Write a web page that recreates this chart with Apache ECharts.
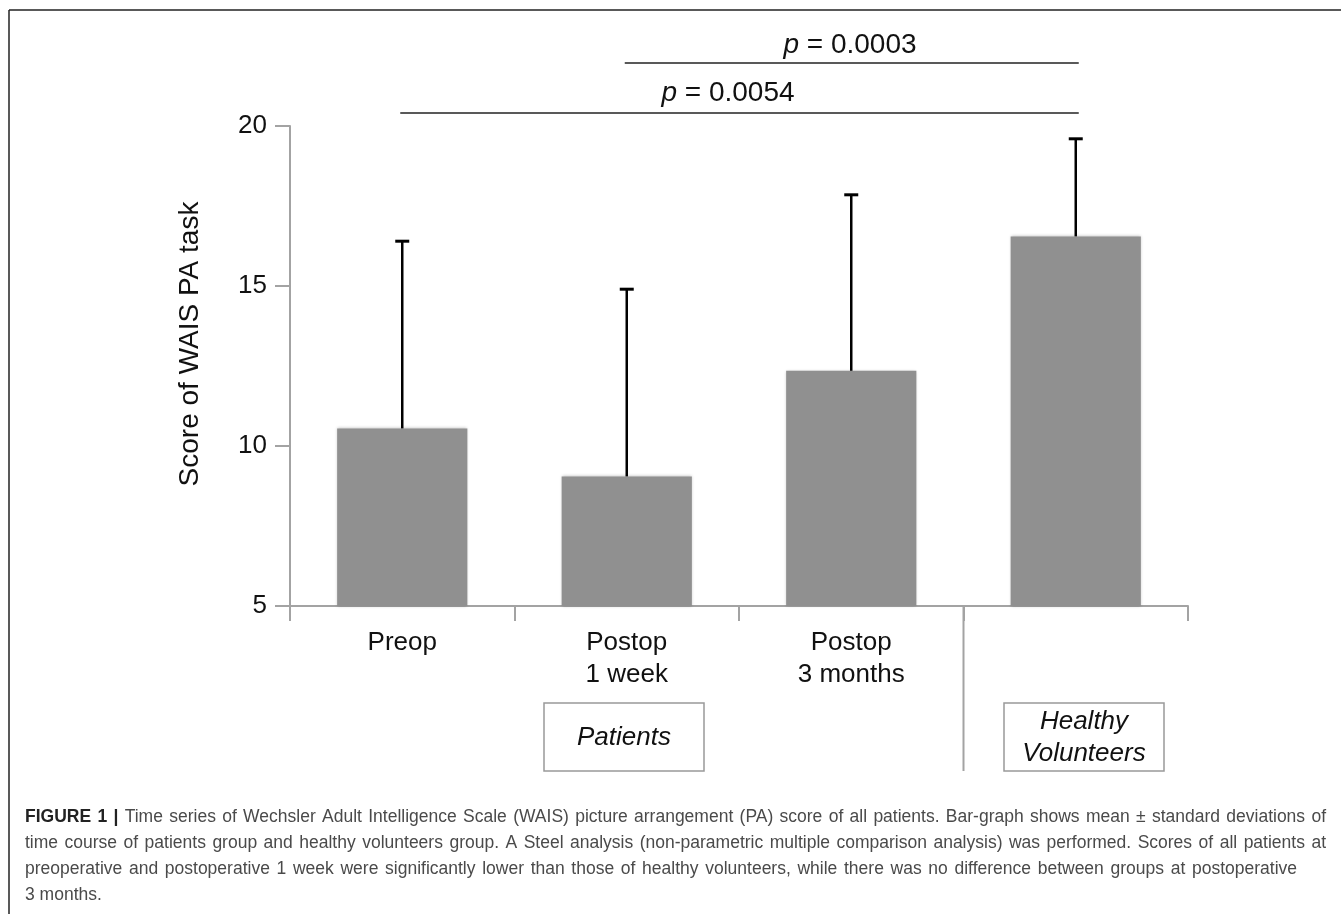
<!DOCTYPE html>
<html><head><meta charset="utf-8">
<script src="https://cdn.jsdelivr.net/npm/echarts@6/dist/echarts.min.js"></script>
<style>html,body{margin:0;padding:0;background:#fff}#c{width:1341px;height:914px}</style>
</head><body><div id="c"></div>
<script>
// ---- data ----
const categories = ['Preop', 'Postop\n1 week', 'Postop\n3 months', ''];
const meanScores = [10.55, 9.05, 12.35, 16.55];
const sdScores = [5.85, 5.85, 5.5, 3.05];
const yMin = 5, yMax = 20, yInterval = 5;
const compFrom = [1, 0];
const compTo = [3, 3];
const pValues = ['0.0003', '0.0054'];
const groupLabels = ['Patients', 'Healthy\nVolunteers'];
const yTitle = 'Score of WAIS PA task';
const captionLines = [
  'FIGURE 1 | Time series of Wechsler Adult Intelligence Scale (WAIS) picture arrangement (PA) score of all patients. Bar-graph shows mean \u00b1 standard deviations of',
  'time course of patients group and healthy volunteers group. A Steel analysis (non-parametric multiple comparison analysis) was performed. Scores of all patients at',
  'preoperative and postoperative 1 week were significantly lower than those of healthy volunteers, while there was no difference between groups at postoperative',
  '3 months.'
];

// ---- chart ----
const FF = '"Liberation Sans", Arial, Helvetica, sans-serif';
const chart = echarts.init(document.getElementById('c'), null, {renderer: 'canvas'});
const axisGray = '#a3a3a3';

chart.setOption({
  animation: false,
  backgroundColor: '#fff',
  grid: {left: 290, right: 153, top: 126, bottom: 308},
  xAxis: {
    type: 'category', data: categories,
    axisLine: {lineStyle: {color: axisGray, width: 2}},
    axisTick: {show: true, length: 15, alignWithLabel: false, lineStyle: {color: axisGray, width: 2}},
    axisLabel: {fontSize: 26, color: '#111', fontFamily: FF, lineHeight: 32, margin: 21, interval: 0}
  },
  yAxis: {
    type: 'value', min: yMin, max: yMax, interval: yInterval,
    splitLine: {show: false},
    axisLine: {show: true, lineStyle: {color: axisGray, width: 2}},
    axisTick: {show: true, length: 15, lineStyle: {color: axisGray, width: 2}},
    axisLabel: {fontSize: 26, color: '#111', fontFamily: FF, margin: 23}
  },
  series: [
    {
      type: 'bar', data: meanScores, barWidth: '58%', z: 2,
      itemStyle: {color: '#909090', shadowBlur: 3, shadowColor: 'rgba(0,0,0,0.25)'}
    },
    {
      type: 'custom', z: 5, clip: false,
      data: meanScores.map((m, i) => [i, m, m + sdScores[i]]),
      encode: {x: 0, y: [1, 2]},
      renderItem: function (params, api) {
        const b = api.coord([api.value(0), api.value(1)]);
        const t = api.coord([api.value(0), api.value(2)]);
        return {
          type: 'group', children: [
            {type: 'line', shape: {x1: b[0], y1: b[1], x2: b[0], y2: t[1]}, style: {stroke: '#000', lineWidth: 2.5}},
            {type: 'line', shape: {x1: b[0] - 7, y1: t[1], x2: b[0] + 7, y2: t[1]}, style: {stroke: '#000', lineWidth: 3}}
          ]
        };
      }
    }
  ]
});

// ---- annotations ----
const cx = i => chart.convertToPixel({xAxisIndex: 0}, i);
const g = [];
// frame
g.push({type: 'line', shape: {x1: 9, y1: 10, x2: 9, y2: 914}, style: {stroke: '#222', lineWidth: 1.5}});
g.push({type: 'line', shape: {x1: 9, y1: 10, x2: 1341, y2: 10}, style: {stroke: '#222', lineWidth: 1.5}});

// y axis title
g.push({type: 'text', x: 190, y: 344, rotation: Math.PI / 2,
  style: {text: yTitle, fontSize: 28, fontFamily: FF, fill: '#111', align: 'center', verticalAlign: 'middle'}});

// significance brackets
const lineY = [63, 113];
const textY = [45, 93];
const textX = [850, 728];
for (let k = 0; k < pValues.length; k++) {
  const x1 = cx(compFrom[k]) - 2, x2 = cx(compTo[k]) + 3;
  g.push({type: 'line', shape: {x1: x1, y1: lineY[k], x2: x2, y2: lineY[k]}, style: {stroke: '#222', lineWidth: 1.5}});
  g.push({type: 'text', x: textX[k], y: textY[k], style: {
    text: '{i|p} = ' + pValues[k], fontSize: 28, fontFamily: FF, fill: '#111', align: 'center', verticalAlign: 'middle',
    rich: {i: {fontStyle: 'italic', fontSize: 28, fontFamily: FF, fill: '#111'}}
  }});
}

// group separator
const sepX = (cx(2) + cx(3)) / 2;
const axisY = chart.convertToPixel({yAxisIndex: 0}, yMin);
g.push({type: 'line', shape: {x1: sepX, y1: axisY, x2: sepX, y2: 771}, style: {stroke: axisGray, lineWidth: 2}});

// group boxes
const boxes = [[544, 703, 160, 68], [1004, 703, 160, 68]];
boxes.forEach((b, i) => {
  g.push({type: 'rect', shape: {x: b[0], y: b[1], width: b[2], height: b[3]}, style: {fill: '#fff', stroke: '#999', lineWidth: 1.5}});
  g.push({type: 'text', x: b[0] + b[2] / 2, y: b[1] + b[3] / 2 + 1, style: {
    text: groupLabels[i], fontSize: 26, fontStyle: 'italic', fontFamily: FF, fill: '#111',
    align: 'center', verticalAlign: 'middle', lineHeight: 32}});
});

// caption (justified)
const capSize = 17.5;
const capLeft = 25;
const capRight = [1326, 1326, 1297, null];
const capY = [817, 843, 869, 895];
const ctx = document.createElement('canvas').getContext('2d');
captionLines.forEach((line, li) => {
  const words = line.split(' ');
  const bolds = words.map((w, wi) => li === 0 && wi < 3);
  const widths = words.map((w, wi) => {
    ctx.font = (bolds[wi] ? 'bold ' : '') + capSize + 'px ' + FF;
    return ctx.measureText(w).width;
  });
  ctx.font = capSize + 'px ' + FF;
  const spaceW = ctx.measureText(' ').width;
  const sum = widths.reduce((a, b) => a + b, 0);
  const gap = capRight[li] ? (capRight[li] - capLeft - sum) / (words.length - 1) : spaceW;
  let x = capLeft;
  words.forEach((w, wi) => {
    g.push({type: 'text', x: x, y: capY[li], style: {
      text: w, fontSize: capSize, fontWeight: bolds[wi] ? 'bold' : 'normal', fontFamily: FF,
      fill: bolds[wi] ? '#222' : '#4a4a4a', align: 'left', verticalAlign: 'middle'}});
    x += widths[wi] + gap;
  });
});

chart.setOption({graphic: {elements: g}});
</script>
</body></html>
